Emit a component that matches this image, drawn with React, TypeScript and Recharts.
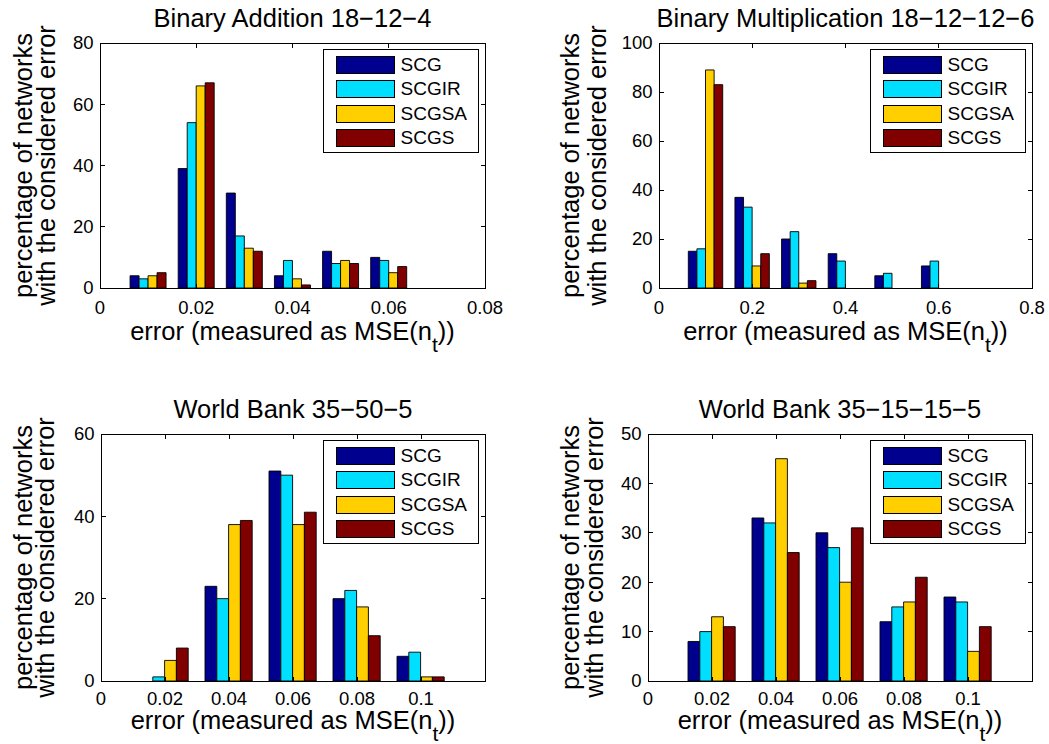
import React from 'react';
import { BarChart, Bar, XAxis, YAxis, Legend } from 'recharts';

// Training methods compared in every panel, in drawing order
const seriesNames = ['SCG', 'SCGIR', 'SCGSA', 'SCGS'];
const seriesColors = ['#00008f', '#00dfff', '#ffcf00', '#800000'];

// Binary Addition 18-12-4
const addErrors = [0.01, 0.02, 0.03, 0.04, 0.05, 0.06];
const addSCG = [4, 39, 31, 4, 12, 10];
const addSCGIR = [3, 54, 17, 9, 8, 9];
const addSCGSA = [4, 66, 13, 3, 9, 5];
const addSCGS = [5, 67, 12, 1, 8, 7];
const addXTicks = [0, 0.02, 0.04, 0.06, 0.08];
const addYTicks = [0, 20, 40, 60, 80];

// Binary Multiplication 18-12-12-6
const mulErrors = [0.1, 0.2, 0.3, 0.4, 0.5, 0.6];
const mulSCG = [15, 37, 20, 14, 5, 9];
const mulSCGIR = [16, 33, 23, 11, 6, 11];
const mulSCGSA = [89, 9, 2, 0, 0, 0];
const mulSCGS = [83, 14, 3, 0, 0, 0];
const mulXTicks = [0, 0.2, 0.4, 0.6, 0.8];
const mulYTicks = [0, 20, 40, 60, 80, 100];

// World Bank 35-50-5
const wbAErrors = [0.02, 0.04, 0.06, 0.08, 0.1];
const wbASCG = [0, 23, 51, 20, 6];
const wbASCGIR = [1, 20, 50, 22, 7];
const wbASCGSA = [5, 38, 38, 18, 1];
const wbASCGS = [8, 39, 41, 11, 1];
const wbAYTicks = [0, 20, 40, 60];

// World Bank 35-15-15-5
const wbBErrors = [0.02, 0.04, 0.06, 0.08, 0.1];
const wbBSCG = [8, 33, 30, 12, 17];
const wbBSCGIR = [10, 32, 27, 15, 16];
const wbBSCGSA = [13, 45, 20, 16, 6];
const wbBSCGS = [11, 26, 31, 21, 11];
const wbBYTicks = [0, 10, 20, 30, 40, 50];

const wbXTicks = [0, 0.02, 0.04, 0.06, 0.08, 0.1];

const FONT = '"Liberation Sans", Arial, Helvetica, sans-serif';
const TICK_FONT = 18.5;
const LABEL_FONT = 25.5;
const TICK_LEN = 4.5;
const X_AXIS_H = 30;

type Row = { [k: string]: number };

function buildRows(errors: number[], cols: number[][]): Row[] {
  return errors.map((x, i) => {
    const r: Row = { x };
    seriesNames.forEach((n, k) => {
      r[n] = cols[k][i];
    });
    return r;
  });
}

type Rect = { x: number; y: number; w: number; h: number };
type Box = { l: number; t: number; r: number; b: number };

type PanelProps = {
  title: string;
  rows: Row[];
  xDomain: [number, number];
  xTicks: number[];
  yDomain: [number, number];
  yTicks: number[];
  cont: Rect;
  plot: Box;
  barSize: number;
  xTickGap: number;
  xLabelY: number;
  yLabelX: [number, number];
};

// Boxed legend listing the methods in series order
function LegendBox() {
  return (
    <div
      style={{
        boxSizing: 'border-box',
        width: 155.5,
        height: 103.5,
        border: '1px solid #000',
        background: '#fff',
        paddingTop: 5.5,
        paddingLeft: 11.5,
        fontFamily: FONT,
        fontSize: 19,
        color: '#000',
      }}
    >
      {seriesNames.map((name, i) => (
        <div
          key={name}
          style={{
            display: 'flex',
            alignItems: 'center',
            height: 18,
            marginTop: i === 0 ? 0 : 6.4,
          }}
        >
          <div
            style={{
              boxSizing: 'border-box',
              width: 59,
              height: 18,
              border: '1px solid #000',
              background: seriesColors[i],
            }}
          />
          <span style={{ marginLeft: 6, lineHeight: '18px', whiteSpace: 'nowrap' }}>{name}</span>
        </div>
      ))}
    </div>
  );
}

function Panel(p: PanelProps) {
  const { cont, plot } = p;
  // plot box in the chart's own coordinates
  const l = plot.l - cont.x;
  const t = plot.t - cont.y;
  const r = plot.r - cont.x;
  const b = plot.b - cont.y;

  const margin = {
    top: t,
    left: 0,
    right: cont.w - r,
    bottom: cont.h - b - X_AXIS_H,
  };

  const XTick = (props: any) => {
    const { x, payload } = props;
    return (
      <g>
        <line x1={x} x2={x} y1={b} y2={b - TICK_LEN} stroke="#000" shapeRendering="crispEdges" />
        <line x1={x} x2={x} y1={t} y2={t + TICK_LEN} stroke="#000" shapeRendering="crispEdges" />
        <text x={x} y={b + p.xTickGap} textAnchor="middle" fontSize={TICK_FONT} fontFamily={FONT} fill="#000">
          {String(payload.value)}
        </text>
      </g>
    );
  };

  const YTick = (props: any) => {
    const { y, payload } = props;
    return (
      <g>
        <line x1={l} x2={l + TICK_LEN} y1={y} y2={y} stroke="#000" shapeRendering="crispEdges" />
        <line x1={r} x2={r - TICK_LEN} y1={y} y2={y} stroke="#000" shapeRendering="crispEdges" />
        <text x={l - 6.5} y={y} dy="0.35em" textAnchor="end" fontSize={TICK_FONT} fontFamily={FONT} fill="#000">
          {String(payload.value)}
        </text>
      </g>
    );
  };

  const cy = (t + b) / 2;
  const cx = (l + r) / 2;

  return (
    <div style={{ position: 'absolute', left: cont.x, top: cont.y }}>
      <BarChart width={cont.w} height={cont.h} data={p.rows} margin={margin} barGap={0}>
        <XAxis
          dataKey="x"
          type="number"
          domain={p.xDomain}
          ticks={p.xTicks}
          interval={0}
          height={X_AXIS_H}
          axisLine={false}
          tickLine={false}
          tickSize={0}
          tickMargin={0}
          tick={XTick}
          allowDataOverflow
        />
        <YAxis
          type="number"
          domain={p.yDomain}
          ticks={p.yTicks}
          interval={0}
          width={l}
          axisLine={false}
          tickLine={false}
          tickSize={0}
          tickMargin={0}
          tick={YTick}
          allowDataOverflow
        />
        {seriesNames.map((n, i) => (
          <Bar
            key={n}
            dataKey={n}
            name={n}
            fill={seriesColors[i]}
            stroke="#000"
            strokeWidth={0.9}
            barSize={p.barSize}
            isAnimationActive={false}
          />
        ))}
        <Legend
          layout="vertical"
          align="center"
          verticalAlign="middle"
          content={LegendBox}
          wrapperStyle={{ left: r - 6.5 - 155.5, top: t + 6.3, width: 155.5, height: 103.5 }}
        />
        <g>
          <rect x={l} y={t} width={r - l} height={b - t} fill="none" stroke="#000" shapeRendering="crispEdges" />
          <text x={cx} y={t - 16} textAnchor="middle" fontSize={LABEL_FONT} fontFamily={FONT} fill="#000">
            {p.title}
          </text>
          <text x={cx} y={p.xLabelY - cont.y} textAnchor="middle" fontSize={LABEL_FONT} fontFamily={FONT} fill="#000">
            error (measured as MSE(n
            <tspan dy={12} fontSize={21}>
              t
            </tspan>
            <tspan dy={-12}>))</tspan>
          </text>
          <text
            transform={`translate(${p.yLabelX[0]},${cy}) rotate(-90)`}
            textAnchor="middle"
            fontSize={LABEL_FONT}
            fontFamily={FONT}
            fill="#000"
          >
            percentage of networks
          </text>
          <text
            transform={`translate(${p.yLabelX[1]},${cy}) rotate(-90)`}
            textAnchor="middle"
            fontSize={LABEL_FONT}
            fontFamily={FONT}
            fill="#000"
          >
            with the considered error
          </text>
        </g>
      </BarChart>
    </div>
  );
}

export default function App() {
  const addRows = buildRows(addErrors, [addSCG, addSCGIR, addSCGSA, addSCGS]);
  const mulRows = buildRows(mulErrors, [mulSCG, mulSCGIR, mulSCGSA, mulSCGS]);
  const wbARows = buildRows(wbAErrors, [wbASCG, wbASCGIR, wbASCGSA, wbASCGS]);
  const wbBRows = buildRows(wbBErrors, [wbBSCG, wbBSCGIR, wbBSCGSA, wbBSCGS]);

  return (
    <div style={{ position: 'absolute', left: 0, top: 0, width: 1049, height: 744, background: '#fff' }}>
      <Panel
        title="Binary Addition 18−12−4"
        rows={addRows}
        xDomain={[0, 0.08]}
        xTicks={addXTicks}
        yDomain={[0, 80]}
        yTicks={addYTicks}
        cont={{ x: 0, y: 0, w: 525, h: 372 }}
        plot={{ l: 100, t: 43, r: 485, b: 288 }}
        barSize={9}
        xTickGap={26}
        xLabelY={340}
        yLabelX={[31.5, 55]}
      />
      <Panel
        title="Binary Multiplication 18−12−12−6"
        rows={mulRows}
        xDomain={[0, 0.8]}
        xTicks={mulXTicks}
        yDomain={[0, 100]}
        yTicks={mulYTicks}
        cont={{ x: 525, y: 0, w: 524, h: 372 }}
        plot={{ l: 659, t: 43, r: 1032, b: 288 }}
        barSize={8.6}
        xTickGap={26}
        xLabelY={340}
        yLabelX={[579 - 525, 606 - 525]}
      />
      <Panel
        title="World Bank 35−50−5"
        rows={wbARows}
        xDomain={[0, 0.12]}
        xTicks={wbXTicks}
        yDomain={[0, 60]}
        yTicks={wbAYTicks}
        cont={{ x: 0, y: 372, w: 525, h: 372 }}
        plot={{ l: 101, t: 434, r: 485, b: 681 }}
        barSize={11.8}
        xTickGap={24}
        xLabelY={729}
        yLabelX={[31.5, 54]}
      />
      <Panel
        title="World Bank 35−15−15−5"
        rows={wbBRows}
        xDomain={[0, 0.12]}
        xTicks={wbXTicks}
        yDomain={[0, 50]}
        yTicks={wbBYTicks}
        cont={{ x: 525, y: 372, w: 524, h: 372 }}
        plot={{ l: 648, t: 434, r: 1032, b: 681 }}
        barSize={11.8}
        xTickGap={24}
        xLabelY={729}
        yLabelX={[579 - 525, 603 - 525]}
      />
    </div>
  );
}
